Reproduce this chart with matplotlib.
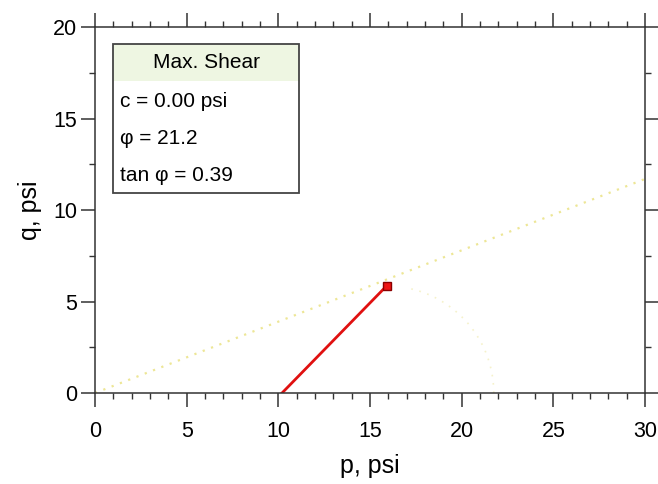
import numpy as np
import matplotlib.pyplot as plt
from matplotlib.patches import Rectangle, Arc

plt.rcParams['font.family'] = ['Liberation Sans', 'DejaVu Sans']

# failure envelope (max. shear)
env_p = [0, 30]
env_q = [0, 11.7]
# stress path
path_p = [10.2, 15.9]
path_q = [0.0, 5.85]
# Mohr circle at failure (center, radius)
circ_c = 15.9
circ_r = 5.85

box_title = 'Max. Shear'
box_lines = ['c = 0.00 psi', 'φ = 21.2', 'tan φ = 0.39']

xticks = [0, 5, 10, 15, 20, 25, 30]
yticks = [0, 5, 10, 15, 20]


def main():
    fig = plt.figure(figsize=(6.58, 4.84), dpi=100)
    ax = fig.add_axes([0.1444, 0.188, 0.8359, 0.756])

    ax.plot(env_p, env_q, color='#e6dc6a', lw=1.6, ls=(0, (1, 3)), alpha=0.7)
    arc = Arc((circ_c, 0), 2 * circ_r, 2 * circ_r, theta1=0, theta2=80,
              color='#efe9a8', lw=1.2, ls=(0, (1, 4)), alpha=0.6)
    ax.add_patch(arc)
    ax.plot(path_p, path_q, color='#e01010', lw=2)
    ax.plot(path_p[-1], path_q[-1], marker='s', ms=6, mfc='#ee1515',
            mec='#8a0000', mew=1)

    ax.set_xlim(0, 30)
    ax.set_ylim(0, 20)
    ax.set_xticks(xticks)
    ax.set_yticks(yticks)
    ax.set_xticks(np.arange(0, 31, 1), minor=True)
    ax.set_yticks(np.arange(0, 20.1, 2.5), minor=True)
    ax.tick_params(which='both', top=True, right=True, direction='out',
                   color='#333333')
    ax.tick_params(which='major', length=10, width=1.1, labelsize=15.5)
    ax.tick_params(which='minor', length=4.5, width=1)
    ax.tick_params(axis='x', which='major', pad=10)
    ax.tick_params(axis='y', which='major', pad=3)
    for s in ax.spines.values():
        s.set_color('#333333')
        s.set_linewidth(1.1)

    ax.set_xlabel('p, psi', fontsize=18, labelpad=9)
    ax.set_ylabel('q, psi', fontsize=18, labelpad=8)

    # info box
    bx0, bx1 = 0.033, 0.371
    by0, by1 = 0.546, 0.953
    ax.add_patch(Rectangle((bx0, by1 - 0.10), bx1 - bx0, 0.10, transform=ax.transAxes,
                           facecolor='#eef6e2', edgecolor='none', zorder=4))
    ax.add_patch(Rectangle((bx0, by0), bx1 - bx0, by1 - by0, transform=ax.transAxes,
                           facecolor='none', edgecolor='#444444', lw=1.3, zorder=5))
    ax.text((bx0 + bx1) / 2, 0.902, box_title, transform=ax.transAxes,
            ha='center', va='center', fontsize=15, zorder=6)
    for i, t in enumerate(box_lines):
        ax.text(bx0 + 0.012, 0.797 - i * 0.101, t, transform=ax.transAxes,
                ha='left', va='center', fontsize=15, zorder=6)

    fig.savefig('out.png')


if __name__ == "__main__":
    main()
